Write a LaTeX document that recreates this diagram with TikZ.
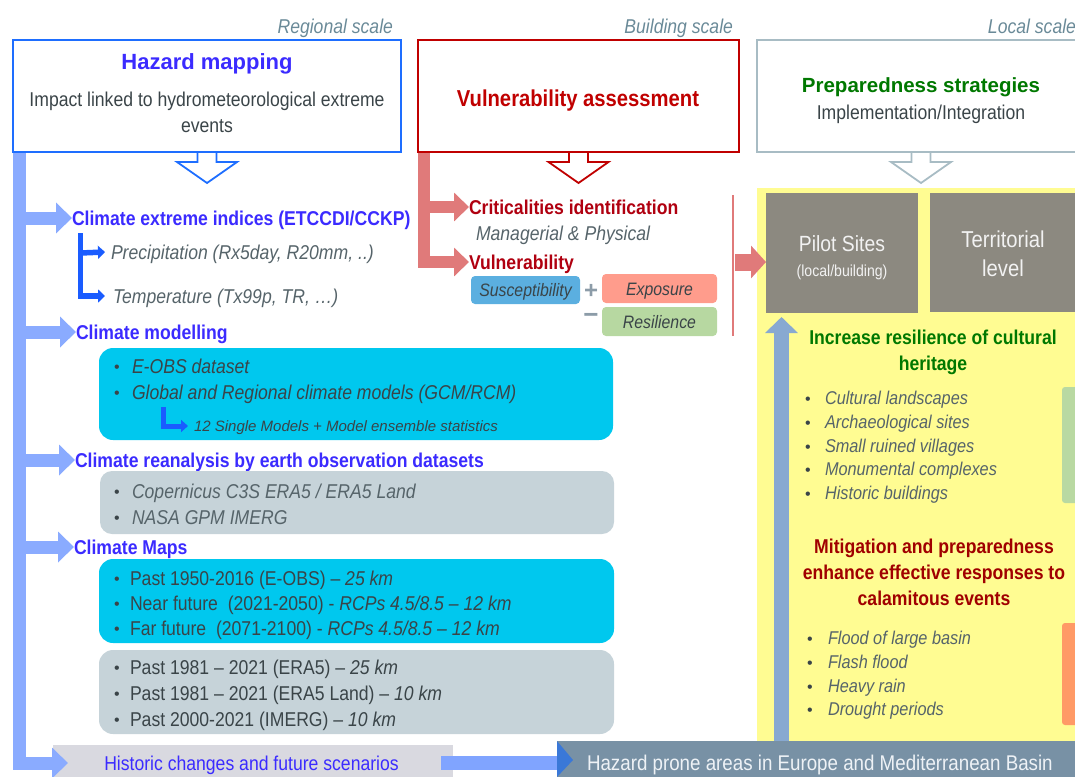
\documentclass[tikz,border=0pt]{standalone}
\usepackage{fontspec}
\setmainfont{Liberation Sans}
\newfontfamily\fN[FakeStretch=0.88]{Liberation Sans}
\newfontfamily\fA{Liberation Sans}
\usetikzlibrary{arrows.meta}
\newcommand\fsz[2]{\fontsize{#1}{#2}\selectfont}
\definecolor{hazblue}{HTML}{1E6EFF}
\definecolor{titblue}{HTML}{3B2BFF}
\definecolor{barblue}{HTML}{8AABFF}
\definecolor{botblue}{HTML}{80A4FF}
\definecolor{brblue}{HTML}{1A5CFF}
\definecolor{vred}{HTML}{C00000}
\definecolor{tred}{HTML}{B00010}
\definecolor{redbar}{HTML}{E07A7A}
\definecolor{scalec}{HTML}{6A8A98}
\definecolor{itgray}{HTML}{56646A}
\definecolor{dkgray}{HTML}{3A4448}
\definecolor{cyanbox}{HTML}{00C8EE}
\definecolor{graybox}{HTML}{C6D3D9}
\definecolor{yellowbg}{HTML}{FFFC92}
\definecolor{pilotgray}{HTML}{8C8980}
\definecolor{pilottxt}{HTML}{F2F2F2}
\definecolor{tgreen}{HTML}{007800}
\definecolor{prepc}{HTML}{A8BCC4}
\definecolor{hpbox}{HTML}{7891A5}
\definecolor{hptxt}{HTML}{EEF2F6}
\definecolor{histgray}{HTML}{D9D9E0}
\definecolor{headblue}{HTML}{3A78D8}
\definecolor{suscc}{HTML}{5BAFE0}
\definecolor{expoc}{HTML}{FF9C8C}
\definecolor{resic}{HTML}{B7D8A1}
\definecolor{orangec}{HTML}{FF9A66}
\definecolor{greenbar}{HTML}{B9D9A2}
\definecolor{upblue}{HTML}{88A9D1}
\definecolor{mitred}{HTML}{A00000}
\definecolor{plusc}{HTML}{8C9CA8}
\begin{document}
\begin{tikzpicture}[x=1pt,y=-1pt,
  t/.style={inner sep=0pt, outer sep=0pt},
  panel/.style={inner sep=0pt, outer sep=0pt, anchor=north west},
  bararrow/.style={barblue, line width=13pt, line join=miter, -{Triangle[length=16pt,width=30pt]}},
  redarrow/.style={redbar, line width=12pt, line join=miter, -{Triangle[length=15pt,width=28pt]}},
  brarrow/.style={brblue, line width=5.5pt, line join=miter, -{Triangle[length=7pt,width=13pt]}},
  hollowarrow/.style={line width=1.8pt, line join=miter},
  hd/.style={t, anchor=base west, font=\fN\bfseries\fsz{20}{24}, text=titblue},
  it/.style={t, anchor=base west, font=\fN\itshape\fsz{20}{24}, text=itgray},
  itb/.style={t, anchor=base west, font=\fN\itshape\fsz{20}{24}, text=dkgray},
  up/.style={t, anchor=base west, font=\fN\fsz{20}{24}, text=dkgray},
  bul/.style={t, anchor=base west, font=\fA\fsz{16}{20}, text=dkgray},
  scl/.style={t, anchor=base east, font=\fN\itshape\fsz{20}{24}, text=scalec},
  yit/.style={t, anchor=base west, font=\fN\itshape\fsz{18.5}{22}, text=itgray},
]
\useasboundingbox (0,0) rectangle (1075,776);

% ---------- backgrounds ----------
\node[panel, fill=yellowbg, minimum width=320pt, minimum height=553pt] (ybg) at (757,188) {};
\node[panel, fill=histgray, minimum width=400pt, minimum height=32pt] (hist) at (53,745) {};
\node[panel, fill=hpbox, minimum width=520pt, minimum height=36pt] (hp) at (557,741) {};

% ---------- left trunk ----------
\coordinate (trunk) at (19.5,152);
\draw[bararrow] (trunk) |- ([xshift=15pt,yshift=-2pt]hist.west);
\coordinate (ceiP) at (72,218);
\coordinate (cmodP) at (76,332);
\coordinate (creaP) at (75,460);
\coordinate (cmapP) at (74,547);
\foreach \p in {ceiP,cmodP,creaP,cmapP} \draw[bararrow] (trunk |- \p) -- (\p);

% bottom link
\draw[botblue, line width=14pt] ([xshift=-12pt,yshift=-2pt]hist.east) -- ([yshift=-4pt]hp.west);
\fill[headblue] (hp.north west) -- ++(16,19) -- (hp.south west) -- cycle;

% ---------- top boxes ----------
\draw[hazblue, hollowarrow] (207,152) ++(-9.5,0) -- ++(0,10) -- ++(-20.5,0) -- ++(30,21) -- ++(30,-21) -- ++(-20.5,0) -- ++(0,-10);
\node[panel, draw=hazblue, line width=2pt, minimum width=388pt, minimum height=112pt] (hazbox) at (13,40) {};

\draw[redarrow] (424,152) |- (469,262);
\coordinate (critP) at (469,207);
\draw[redarrow] (424,207) -- (critP);
\draw[vred, hollowarrow] (578.5,152) ++(-9.5,0) -- ++(0,10) -- ++(-20.5,0) -- ++(30,21) -- ++(30,-21) -- ++(-20.5,0) -- ++(0,-10);
\node[panel, draw=vred, line width=2pt, minimum width=321pt, minimum height=112pt] (vulbox) at (418,40) {};

\draw[prepc, hollowarrow] (921,152) ++(-9.5,0) -- ++(0,10) -- ++(-20.5,0) -- ++(30,21) -- ++(30,-21) -- ++(-20.5,0) -- ++(0,-10);
\node[panel, draw=prepc, line width=2pt, minimum width=328pt, minimum height=112pt] (prepbox) at (757,40) {};

% scale labels
\node[scl] (sreg) at (393,34) {Regional scale};
\node[scl] (sbld) at (733,34) {Building scale};
\node[scl] (sloc) at (1076,34) {Local scale};

% box titles (multi-line nodes: base = last line)
\node[t, anchor=base, font=\fA\bfseries\fsz{22}{26}, text=titblue] (hazT) at (207,70) {Hazard mapping};
\node[t, anchor=base, align=center, font=\fN\fsz{20}{26}, text=dkgray] (hazS) at (207,132) {Impact linked to hydrometeorological extreme\\events};
\node[t, anchor=base, font=\fN\bfseries\fsz{23}{27}, text=vred] (vulT) at (578,106) {Vulnerability assessment};
\node[t, anchor=base, font=\fA\bfseries\fsz{20.5}{24}, text=tgreen] (prepT) at (921,92) {Preparedness strategies};
\node[t, anchor=base, font=\fN\fsz{20}{24}, text=dkgray] (prepS) at (921,119) {Implementation/Integration};

% ---------- left column ----------
\node[hd] (cei) at ([yshift=-7pt]ceiP) {Climate extreme indices (ETCCDI/CCKP)};
\node[it] (prec) at (111,259) {Precipitation (Rx5day, R20mm, ..)};
\node[it] (temp) at (113,303) {Temperature (Tx99p, TR, \dots)};
\draw[brarrow] (80.5,233) |- ([xshift=-8pt,yshift=7pt]temp.base west);
\draw[brarrow] (80.5,253) -- ([xshift=-6pt,yshift=7pt]prec.base west);

\node[hd] (cmod) at ([yshift=-7pt]cmodP) {Climate modelling};
\node[panel, fill=cyanbox, rounded corners=14pt, minimum width=514pt, minimum height=92pt] (cyan1) at (99,348) {};
\node[bul] (b1) at (114,372) {•};
\node[itb] (eobs) at (132,373) {E-OBS dataset};
\node[bul] (b2) at (114,398) {•};
\node[itb] (gcm) at (132,399) {Global and Regional climate models (GCM/RCM)};
\node[t, anchor=base west, font=\fA\itshape\fsz{15}{18}, text=dkgray] (single) at (194,431) {12 Single Models + Model ensemble statistics};
\draw[brarrow, line width=5pt, -{Triangle[length=7pt,width=12pt]}] (163,407) |- ([xshift=-6pt,yshift=5pt]single.base west);

\node[hd] (crea) at ([yshift=-7pt]creaP) {Climate reanalysis by earth observation datasets};
\node[panel, fill=graybox, rounded corners=12pt, minimum width=514pt, minimum height=63pt] (gray1) at (100,471) {};
\node[bul] (b3) at (114,497) {•};
\node[it] (cop) at (132,498) {Copernicus C3S ERA5 / ERA5 Land};
\node[bul] (b4) at (114,523) {•};
\node[it] (nasa) at (132,524) {NASA GPM IMERG};

\node[hd] (cmap) at ([yshift=-7pt]cmapP) {Climate Maps};
\node[panel, fill=cyanbox, rounded corners=14pt, minimum width=515pt, minimum height=84pt] (cyan2) at (99,559) {};
\node[bul] (b5) at (114,584) {•};
\node[up] (m1) at (130,585) {Past 1950-2016 (E-OBS) – \textit{25 km}};
\node[bul] (b6) at (114,609) {•};
\node[up] (m2) at (130,610) {Near future\ \ (2021-2050) - \textit{RCPs 4.5/8.5 – 12 km}};
\node[bul] (b7) at (114,634) {•};
\node[up] (m3) at (130,635) {Far future\ \ (2071-2100) - \textit{RCPs 4.5/8.5 – 12 km}};

\node[panel, fill=graybox, rounded corners=14pt, minimum width=515pt, minimum height=84pt] (gray2) at (99,650) {};
\node[bul] (b8) at (114,673) {•};
\node[up] (m4) at (130,674) {Past 1981 – 2021 (ERA5) – \textit{25 km}};
\node[bul] (b9) at (114,699) {•};
\node[up] (m5) at (130,700) {Past 1981 – 2021 (ERA5 Land) – \textit{10 km}};
\node[bul] (b10) at (114,725) {•};
\node[up] (m6) at (130,726) {Past 2000-2021 (IMERG) – \textit{10 km}};

\node[t, anchor=base, font=\fN\fsz{20}{24}, text=titblue] (histT) at (251.5,770) {Historic changes and future scenarios};
\node[t, anchor=base west, font=\fN\fsz{21.3}{24}, text=hptxt] (hpT) at (587,770) {Hazard prone areas in Europe and Mediterranean Basin};

% ---------- middle column ----------
\node[t, anchor=base west, font=\fN\bfseries\fsz{20}{24}, text=tred] (crit) at ([yshift=-7pt]critP) {Criticalities identification};
\node[it] (mgr) at (476,240) {Managerial \& Physical};
\node[t, anchor=base west, font=\fN\bfseries\fsz{20}{24}, text=tred] (vul) at (469,269) {Vulnerability};
\node[panel, fill=suscc, rounded corners=4pt, minimum width=109pt, minimum height=28pt] (susc) at (471,276) {};
\node[t, anchor=base, font=\fN\itshape\fsz{18}{22}, text=dkgray] (suscT) at (susc.center |- 0,296.5) {Susceptibility};
\node[panel, fill=expoc, rounded corners=4pt, minimum width=115pt, minimum height=29pt] (expo) at (602,274) {};
\node[t, anchor=base, font=\fN\itshape\fsz{18}{22}, text=dkgray] (expoT) at (expo.center |- 0,295) {Exposure};
\node[panel, fill=resic, rounded corners=4pt, minimum width=115pt, minimum height=29pt] (resi) at (602,307) {};
\node[t, anchor=base, font=\fN\itshape\fsz{18}{22}, text=dkgray] (resiT) at (resi.center |- 0,328) {Resilience};
\node[t, anchor=center, font=\fA\bfseries\fsz{24}{26}, text=plusc] (plus) at (591,291) {+};
\node[t, anchor=center, font=\fA\bfseries\fsz{26}{26}, text=plusc] (minus) at (591,318) {−};
\draw[redbar, line width=2.5pt] (733,195) -- (733,336);

% ---------- right column ----------
\node[panel, fill=pilotgray, minimum width=152pt, minimum height=120pt] (pilot) at (766,193) {};
\node[panel, fill=pilotgray, minimum width=150pt, minimum height=119pt] (terr) at (930,193) {};
\draw[redbar, line width=17pt, -{Triangle[length=15pt,width=32pt]}] (735,262) -- ([yshift=-9pt]pilot.west);
\node[t, anchor=base, font=\fN\fsz{22}{26}, text=pilottxt] (pilotT) at (842,251) {Pilot Sites};
\node[t, anchor=base, font=\fN\fsz{16}{20}, text=pilottxt] (pilotS) at (842,276) {(local/building)};
\node[t, anchor=base, align=center, font=\fN\fsz{23}{29}, text=pilottxt] (terrT) at (1003,276) {Territorial\\level};

\draw[upblue, line width=15pt, -{Triangle[length=16pt,width=32pt]}] (781.5,741) -- ([xshift=15.5pt,yshift=-4pt]pilot.south west);

\node[t, anchor=base, align=center, font=\fN\bfseries\fsz{20}{26}, text=tgreen] (incr) at (933,370) {Increase resilience of cultural\\heritage};
\foreach \yy/\tx [count=\i] in {404.5/Cultural landscapes, 428.5/Archaeological sites, 452.5/Small ruined villages, 475.5/Monumental complexes, 499.5/Historic buildings}{
  \node[bul] (rb\i) at (805,\yy) {•};
  \node[yit] (ri\i) at (825,\yy) {\tx};
}
\fill[greenbar, rounded corners=3pt] (1062,387) rectangle (1082,503);

\node[t, anchor=base, align=center, font=\fN\bfseries\fsz{20}{26}, text=mitred] (mit) at (934,605) {Mitigation and preparedness\\enhance effective responses to\\calamitous events};
\foreach \yy/\tx [count=\i] in {644.5/Flood of large basin, 668.5/Flash flood, 692.5/Heavy rain, 715.5/Drought periods}{
  \node[bul] (sb\i) at (807,\yy) {•};
  \node[yit] (si\i) at (828,\yy) {\tx};
}
\fill[orangec, rounded corners=3pt] (1062,623) rectangle (1082,725);
\end{tikzpicture}
\end{document}
